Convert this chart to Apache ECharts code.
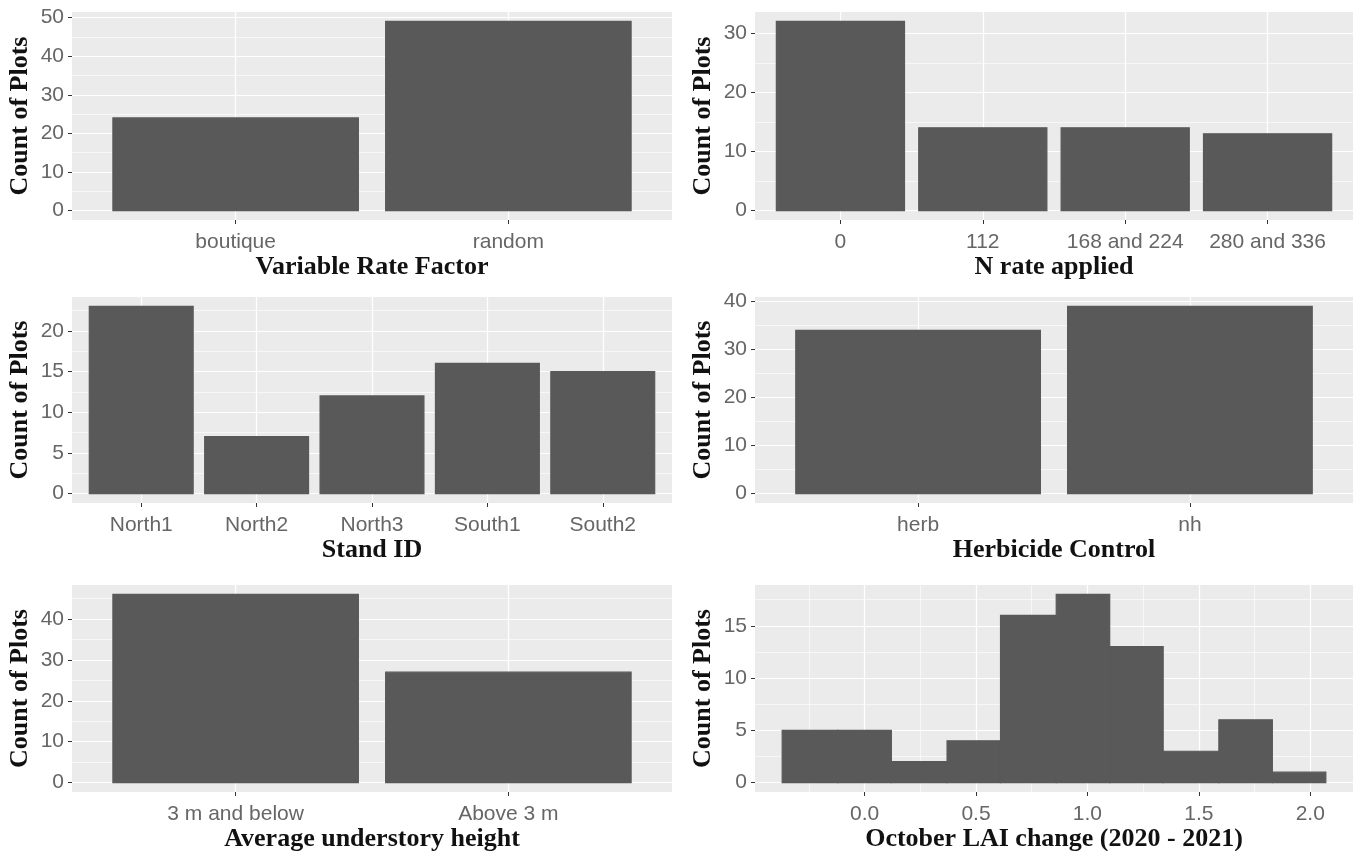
<!DOCTYPE html>
<html>
<head>
<meta charset="utf-8">
<script src="https://cdn.jsdelivr.net/npm/echarts@6/dist/echarts.min.js"></script>
<style>
    html, body { margin: 0; padding: 0; background: #fff; }
    #chart { width: 1355px; height: 851px; }
</style>
</head>
<body>
<div id="chart"></div>
<script>
// 数据：每个面板的类别与计数
const rateFactorCats = ['boutique', 'random'];
const rateFactorCounts = [24, 49];
const rateFactorTicks = [0, 10, 20, 30, 40, 50];
const rateFactorMinor = [5, 15, 25, 35, 45];

const nRateCats = ['0', '112', '168 and 224', '280 and 336'];
const nRateCounts = [32, 14, 14, 13];
const nRateTicks = [0, 10, 20, 30];
const nRateMinor = [5, 15, 25];

const standCats = ['North1', 'North2', 'North3', 'South1', 'South2'];
const standCounts = [23, 7, 12, 16, 15];
const standTicks = [0, 5, 10, 15, 20];
const standMinor = [2.5, 7.5, 12.5, 17.5, 22.5];

const herbCats = ['herb', 'nh'];
const herbCounts = [34, 39];
const herbTicks = [0, 10, 20, 30, 40];
const herbMinor = [5, 15, 25, 35];

const heightCats = ['3 m and below', 'Above 3 m'];
const heightCounts = [46, 27];
const heightTicks = [0, 10, 20, 30, 40];
const heightMinor = [5, 15, 25, 35, 45];

// 直方图：分箱边界与计数
const laiBinEdges = [-0.37, -0.12, 0.12, 0.37, 0.61, 0.86, 1.10, 1.34, 1.59, 1.83, 2.07];
const laiCounts = [5, 5, 2, 4, 16, 18, 13, 3, 6, 1];
const laiXTicks = [0, 0.5, 1, 1.5, 2];
const laiXMinor = [-0.25, 0.25, 0.75, 1.25, 1.75];
const laiYTicks = [0, 5, 10, 15];
const laiYMinor = [2.5, 7.5, 12.5, 17.5];

// 样式常量
const BAR_COLOR = '#595959';
const PANEL_BG = '#EBEBEB';
const BAR_WIDTH = 0.9;
const TICK_FONT = { fontFamily: 'Liberation Sans', fontSize: 21, color: '#666' };
const TITLE_FONT = { fontFamily: 'Liberation Serif', fontWeight: 'bold', fontSize: 26, color: '#111' };

const panels = [
    { rect: [72, 12, 600, 208], cats: rateFactorCats, counts: rateFactorCounts, yTicks: rateFactorTicks, yMinor: rateFactorMinor, xName: 'Variable Rate Factor' },
    { rect: [755, 12, 598, 208], cats: nRateCats, counts: nRateCounts, yTicks: nRateTicks, yMinor: nRateMinor, xName: 'N rate applied' },
    { rect: [72, 297, 600, 206], cats: standCats, counts: standCounts, yTicks: standTicks, yMinor: standMinor, xName: 'Stand ID' },
    { rect: [755, 297, 598, 206], cats: herbCats, counts: herbCounts, yTicks: herbTicks, yMinor: herbMinor, xName: 'Herbicide Control' },
    { rect: [72, 585, 600, 207], cats: heightCats, counts: heightCounts, yTicks: heightTicks, yMinor: heightMinor, xName: 'Average understory height' },
    { rect: [755, 585, 598, 207], edges: laiBinEdges, counts: laiCounts, yTicks: laiYTicks, yMinor: laiYMinor, xName: 'October LAI change (2020 - 2021)' }
];

// ggplot 默认的 5% 扩展
function expand(lo, hi) {
    let pad = (hi - lo) * 0.05;
    return [lo - pad, hi + pad];
}

function renderBar(params, api) {
    let topLeft = api.coord([api.value(0), api.value(2)]);
    let bottomRight = api.coord([api.value(1), 0]);
    return {
        type: 'rect',
        shape: {
            x: topLeft[0],
            y: topLeft[1],
            width: bottomRight[0] - topLeft[0],
            height: bottomRight[1] - topLeft[1]
        },
        style: { fill: BAR_COLOR, stroke: BAR_COLOR, lineWidth: 1.2 }
    };
}

function majorLine(width) {
    return { show: true, lineStyle: { color: '#fff', width: width } };
}

let option = {
    animation: false,
    backgroundColor: '#fff',
    grid: [],
    xAxis: [],
    yAxis: [],
    series: []
};

panels.forEach(function (p, i) {
    let data, xRange, xTicks, xMinor, xFormatter;
    if (p.edges) {
        data = p.counts.map(function (c, k) { return [p.edges[k], p.edges[k + 1], c]; });
        xRange = expand(p.edges[0], p.edges[p.edges.length - 1]);
        xTicks = laiXTicks;
        xMinor = laiXMinor;
        xFormatter = function (v) { return v.toFixed(1); };
    } else {
        data = p.counts.map(function (c, k) { return [k + 1 - BAR_WIDTH / 2, k + 1 + BAR_WIDTH / 2, c]; });
        xRange = [0.4, p.cats.length + 0.6];
        xTicks = p.cats.map(function (c, k) { return k + 1; });
        xMinor = null;
        xFormatter = function (v) { return p.cats[Math.round(v) - 1]; };
    }
    let yRange = expand(0, Math.max.apply(null, p.counts));

    option.grid.push({
        left: p.rect[0], top: p.rect[1], width: p.rect[2], height: p.rect[3],
        show: true, backgroundColor: PANEL_BG, borderWidth: 0,
        outerBoundsMode: 'none'
    });

    // 主 x 轴
    option.xAxis.push({
        type: 'value', gridIndex: i, position: 'bottom',
        min: xRange[0], max: xRange[1],
        name: p.xName, nameLocation: 'middle', nameGap: 32,
        nameTextStyle: TITLE_FONT,
        axisLine: { show: false, onZero: false },
        axisTick: { show: true, customValues: xTicks, length: 4, lineStyle: { color: '#333' } },
        axisLabel: Object.assign({ customValues: xTicks, margin: 12, formatter: xFormatter }, TICK_FONT),
        splitLine: majorLine(1.2)
    });
    // 次 x 轴（只画次网格线）
    option.xAxis.push({
        type: 'value', gridIndex: i, position: 'bottom',
        min: xRange[0], max: xRange[1],
        axisLine: { show: false, onZero: false },
        axisTick: { show: false, customValues: xMinor || [] },
        axisLabel: { show: false },
        splitLine: { show: !!xMinor, lineStyle: { color: '#fff', width: 0.6 } }
    });

    // 主 y 轴
    option.yAxis.push({
        type: 'value', gridIndex: i, position: 'left',
        min: yRange[0], max: yRange[1],
        name: 'Count of Plots', nameLocation: 'middle', nameGap: 39, nameRotate: 90,
        nameTextStyle: TITLE_FONT,
        axisLine: { show: false, onZero: false },
        axisTick: { show: true, customValues: p.yTicks, length: 4, lineStyle: { color: '#333' } },
        axisLabel: Object.assign({ customValues: p.yTicks, margin: 8 }, TICK_FONT),
        splitLine: majorLine(1.2)
    });
    // 次 y 轴
    option.yAxis.push({
        type: 'value', gridIndex: i, position: 'left',
        min: yRange[0], max: yRange[1],
        axisLine: { show: false, onZero: false },
        axisTick: { show: false, customValues: p.yMinor },
        axisLabel: { show: false },
        splitLine: { show: true, lineStyle: { color: '#fff', width: 0.6 } }
    });

    option.series.push({
        type: 'custom',
        xAxisIndex: 2 * i,
        yAxisIndex: 2 * i,
        encode: { x: [0, 1], y: 2 },
        renderItem: renderBar,
        data: data,
        z: 5
    });
});

let chart = echarts.init(document.getElementById('chart'));
chart.setOption(option);
</script>
</body>
</html>
